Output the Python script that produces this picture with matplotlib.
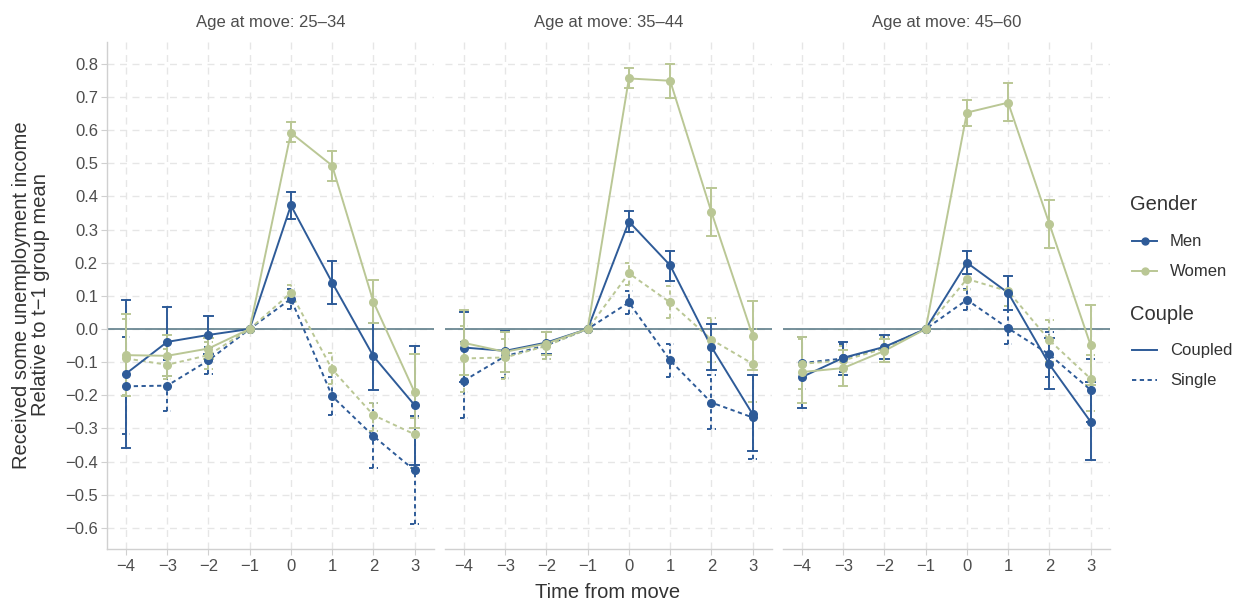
import matplotlib
matplotlib.use("Agg")
import matplotlib.pyplot as plt
from matplotlib.lines import Line2D
import numpy as np

plt.rcParams['font.family'] = ['Liberation Sans', 'DejaVu Sans']

time = [-4, -3, -2, -1, 0, 1, 2, 3]
panels = ["Age at move: 25\u201334", "Age at move: 35\u201344", "Age at move: 45\u201360"]

# (panel, gender, couple): values, lower, upper
men_coupled_val = [[-0.135, -0.039, -0.018, 0, 0.373, 0.140, -0.082, -0.230],
                   [-0.056, -0.066, -0.041, 0, 0.324, 0.192, -0.054, -0.257],
                   [-0.145, -0.087, -0.054, 0, 0.200, 0.109, -0.107, -0.280]]
men_coupled_lo = [[-0.359, -0.143, -0.075, 0, 0.332, 0.076, -0.184, -0.410],
                  [-0.160, -0.130, -0.075, 0, 0.292, 0.146, -0.125, -0.369],
                  [-0.237, -0.140, -0.090, 0, 0.165, 0.058, -0.181, -0.396]]
men_coupled_hi = [[0.088, 0.065, 0.038, 0, 0.412, 0.205, 0.017, -0.052],
                  [0.050, -0.006, -0.008, 0, 0.356, 0.236, 0.014, -0.138],
                  [-0.025, -0.039, -0.018, 0, 0.236, 0.160, -0.028, -0.160]]

women_coupled_val = [[-0.079, -0.081, -0.059, 0, 0.592, 0.493, 0.082, -0.191],
                     [-0.042, -0.069, -0.044, 0, 0.756, 0.749, 0.353, -0.020],
                     [-0.130, -0.118, -0.066, 0, 0.653, 0.683, 0.317, -0.049]]
women_coupled_lo = [[-0.201, -0.143, -0.090, 0, 0.563, 0.447, 0.017, -0.300],
                    [-0.140, -0.130, -0.080, 0, 0.726, 0.698, 0.282, -0.125],
                    [-0.222, -0.171, -0.100, 0, 0.614, 0.627, 0.243, -0.170]]
women_coupled_hi = [[0.046, -0.018, -0.028, 0, 0.625, 0.538, 0.149, -0.077],
                    [0.058, -0.010, -0.010, 0, 0.787, 0.800, 0.424, 0.085],
                    [-0.025, -0.064, -0.030, 0, 0.691, 0.741, 0.388, 0.073]]

men_single_val = [[-0.173, -0.171, -0.095, 0, 0.091, -0.203, -0.323, -0.427],
                  [-0.156, -0.082, -0.049, 0, 0.080, -0.095, -0.222, -0.267],
                  [-0.103, -0.089, -0.056, 0, 0.088, 0.002, -0.077, -0.184]]
men_single_lo = [[-0.318, -0.247, -0.135, 0, 0.060, -0.260, -0.420, -0.590],
                 [-0.269, -0.147, -0.090, 0, 0.045, -0.145, -0.303, -0.391],
                 [-0.180, -0.130, -0.090, 0, 0.058, -0.046, -0.145, -0.280]]
men_single_hi = [[-0.025, -0.095, -0.054, 0, 0.121, -0.146, -0.222, -0.262],
                 [-0.040, -0.010, -0.010, 0, 0.116, -0.044, -0.140, -0.140],
                 [-0.025, -0.045, -0.020, 0, 0.121, 0.058, -0.010, -0.090]]

women_single_val = [[-0.089, -0.108, -0.079, 0, 0.109, -0.122, -0.260, -0.318],
                    [-0.089, -0.086, -0.051, 0, 0.168, 0.080, -0.032, -0.105],
                    [-0.105, -0.095, -0.059, 0, 0.151, 0.114, -0.034, -0.150]]
women_single_lo = [[-0.200, -0.150, -0.120, 0, 0.080, -0.166, -0.308, -0.420],
                   [-0.191, -0.150, -0.090, 0, 0.134, 0.033, -0.100, -0.220],
                   [-0.180, -0.140, -0.090, 0, 0.119, 0.068, -0.100, -0.247]]
women_single_hi = [[0.030, -0.060, -0.040, 0, 0.134, -0.074, -0.222, -0.270],
                   [0.010, -0.030, -0.010, 0, 0.200, 0.129, 0.033, 0.000],
                   [-0.030, -0.050, -0.025, 0, 0.190, 0.160, 0.027, -0.080]]

gender_labels = ['Men', 'Women']
couple_labels = ['Coupled', 'Single']

men_color = '#2E5B98'
women_color = '#BAC795'
zero_color = '#5F7E8A'
grid_color = '#E6E6E6'
axis_color = '#D0D0D0'
text_color = '#4D4D4D'
title_color = '#333333'

series = [
    (men_single_val, men_single_lo, men_single_hi, men_color, 'single'),
    (women_single_val, women_single_lo, women_single_hi, women_color, 'single'),
    (men_coupled_val, men_coupled_lo, men_coupled_hi, men_color, 'coupled'),
    (women_coupled_val, women_coupled_lo, women_coupled_hi, women_color, 'coupled'),
]

W, H = 1236, 601
fig = plt.figure(figsize=(W / 100, H / 100), dpi=100)

lefts = [107, 445, 783]
pw = 327
top_px, bot_px = 42, 549
dash = (0, (2.2, 1.8))


def fmt(v):
    s = f"{v:.1f}"
    if s == "-0.0":
        s = "0.0"
    return s.replace('-', '\u2212')


for i, left in enumerate(lefts):
    ax = fig.add_axes([left / W, 1 - bot_px / H, pw / W, (bot_px - top_px) / H])
    ax.set_xlim(-4.46, 3.47)
    ax.set_ylim(-0.664, 0.866)
    ax.set_xticks(time)
    ax.set_xticklabels([str(t).replace('-', '\u2212') for t in time])
    yt = np.round(np.arange(-0.6, 0.81, 0.1), 1)
    ax.set_yticks(yt)
    ax.set_yticklabels([fmt(v) for v in yt])
    ax.grid(True, color=grid_color, linestyle=(0, (5, 4)), linewidth=1.0)
    ax.set_axisbelow(True)
    for s in ['top', 'right']:
        ax.spines[s].set_visible(False)
    ax.spines['bottom'].set_color(axis_color)
    ax.spines['bottom'].set_linewidth(1.0)
    if i == 0:
        ax.spines['left'].set_color(axis_color)
        ax.spines['left'].set_linewidth(1.0)
        ax.tick_params(axis='y', colors=axis_color, labelcolor=text_color, labelsize=12,
                       length=4, pad=2.5)
    else:
        ax.spines['left'].set_visible(False)
        ax.tick_params(axis='y', left=False, labelleft=False)
    ax.tick_params(axis='x', colors=axis_color, labelcolor=text_color, labelsize=12,
                   length=4, pad=3.5)
    ax.axhline(0, color=zero_color, linewidth=1.2, zorder=2)

    for val, lo, hi, col, kind in series:
        ls = dash if kind == 'single' else 'solid'
        v = val[i]; l = lo[i]; h = hi[i]
        for t, a, b in zip(time, l, h):
            if a == b:
                continue
            ax.plot([t, t], [a, b], color=col, lw=1.4, linestyle=ls, zorder=3)
            for y in (a, b):
                ax.plot([t - 0.1, t + 0.1], [y, y], color=col, lw=1.4, linestyle=ls, zorder=3)
        ax.plot(time, v, color=col, lw=1.4, linestyle=ls, zorder=4)
        ax.plot(time, v, color=col, lw=0, marker='o', markersize=5.5, zorder=5)

    ax.text(0.5, 1 + (top_px - 22) / (bot_px - top_px), panels[i], transform=ax.transAxes,
            ha='center', va='center', fontsize=12, color=text_color)

fig.text(31 / W, 1 - 295 / H, "Received some unemployment income\nRelative to t\u22121 group mean",
         rotation=90, ha='center', va='center', fontsize=14.5, color=title_color, linespacing=0.95)
fig.text(608 / W, 1 - 593 / H, "Time from move", ha='center', va='center', fontsize=14.5,
         color=title_color)


def fx(x):
    return x / W


def fy(y):
    return 1 - y / H


fig.text(fx(1130), fy(205), 'Gender', ha='left', va='center', fontsize=14.5, color=title_color)
for lab, col, y in zip(gender_labels, [men_color, women_color], [241, 271]):
    fig.add_artist(Line2D([fx(1132), fx(1157)], [fy(y), fy(y)], color=col, lw=1.4,
                          transform=fig.transFigure))
    fig.add_artist(Line2D([fx(1144.5)], [fy(y)], color=col, marker='o', markersize=5,
                          lw=0, transform=fig.transFigure))
    fig.text(fx(1170), fy(y), lab, ha='left', va='center', fontsize=12, color=title_color)

fig.text(fx(1130), fy(315), 'Couple', ha='left', va='center', fontsize=14.5, color=title_color)
for lab, ls, y in zip(couple_labels, ['solid', dash], [350, 380]):
    fig.add_artist(Line2D([fx(1132), fx(1157)], [fy(y), fy(y)], color=men_color, lw=1.4,
                          linestyle=ls, transform=fig.transFigure))
    fig.text(fx(1170), fy(y), lab, ha='left', va='center', fontsize=12, color=title_color)

fig.savefig('out.png', dpi=100)
